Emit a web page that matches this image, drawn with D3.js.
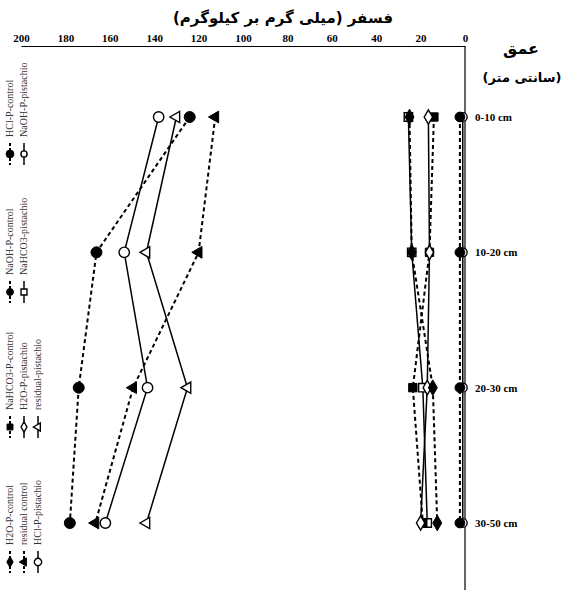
<!DOCTYPE html>
<html><head><meta charset="utf-8">
<script src="https://cdn.jsdelivr.net/npm/d3@7"></script>
<style>body{margin:0;background:#fff}svg{display:block}</style>
</head><body>
<svg id="c" width="565" height="605"></svg>
<script>
const depths = ["0-10 cm","10-20 cm","20-30 cm","30-50 cm"];
const xTicks = [200,180,160,140,120,100,80,60,40,20,0];
const seriesNames = ["HCl-P-control","NaOH-P-pistachio","NaOH-P-control","NaHCO3-pistachio",
  "NaHCO3-P-control","H2O-P-pistachio","residual-pistachio","H2O-P-control","residual control","HCl-P-pistachio"];
const hclControl        = [124, 166, 174, 178];
const naohPistachio     = [1, 1, 1, 1];
const naohControl       = [2.3, 2.3, 2.3, 2.3];
const nahco3Pistachio   = [25.5, 24, 19, 17];
const nahco3Control     = [14, 16, 23.5, 19];
const h2oPistachio      = [16.5, 16, 17, 20];
const residualPistachio = [130, 143.5, 125, 143.5];
const h2oControl        = [25, 24, 14.5, 12.5];
const residualControl   = [112.5, 120, 149.5, 166.5];
const hclPistachio      = [138, 153.5, 143, 162];
const titleText = "فسفر (میلی گرم بر کیلوگرم)";
const depthTitle1 = "عمق";
const depthTitle2 = "(سانتی متر)";

const values = [hclControl,naohPistachio,naohControl,nahco3Pistachio,nahco3Control,
  h2oPistachio,residualPistachio,h2oControl,residualControl,hclPistachio];
const styles = [
  {dash:true, shape:"circle", fill:true, size:95},
  {dash:false, shape:"circle", fill:false, size:60},
  {dash:true, shape:"circle", fill:true, size:75},
  {dash:false, shape:"square", fill:false, size:70},
  {dash:true, shape:"square", fill:true, size:70},
  {dash:false, shape:"diamond", fill:false, size:60},
  {dash:false, shape:"triangle", fill:false, size:55},
  {dash:true, shape:"diamond", fill:true, size:70},
  {dash:true, shape:"triangle", fill:true, size:60},
  {dash:false, shape:"circle", fill:false, size:85}
];
const series = seriesNames.map((n,i)=>({name:n, vals:values[i], st:styles[i]}));

const svg = d3.select("#c");
const x = d3.scaleLinear().domain([0,200]).range([465,21]);
const y = d3.scalePoint().domain(depths).range([117,523]);
const axisY = 46;

const ax = svg.append("g").attr("transform",`translate(0,${axisY})`)
  .call(d3.axisTop(x).tickValues(xTicks).tickSize(0).tickSizeOuter(0).tickPadding(4).tickFormat(d3.format("d")));
ax.select(".domain").attr("stroke","#000").attr("stroke-width",1.2);
ax.selectAll("text").attr("font-family","Liberation Serif").attr("font-weight","bold").attr("font-size",11).attr("fill","#000");

svg.append("line").attr("x1",x(0)).attr("x2",x(0)).attr("y1",axisY).attr("y2",590)
  .attr("stroke","#000").attr("stroke-width",1.2);

svg.selectAll(".dl").data(depths).join("text").attr("class","dl")
  .attr("x",x(0)+10).attr("y",d=>y(d)+4)
  .attr("font-family","Liberation Serif").attr("font-weight","bold").attr("font-size",11).text(d=>d);

svg.append("text").attr("x",283).attr("y",23).attr("text-anchor","middle")
  .attr("font-family","DejaVu Sans").attr("font-weight","bold").attr("font-size",15).attr("direction","rtl").text(titleText);
svg.append("text").attr("x",521).attr("y",54).attr("text-anchor","middle")
  .attr("font-family","DejaVu Sans").attr("font-weight","bold").attr("font-size",16).text(depthTitle1);
svg.append("text").attr("x",522).attr("y",82).attr("text-anchor","middle")
  .attr("font-family","DejaVu Sans").attr("font-weight","bold").attr("font-size",13).attr("direction","rtl").text(depthTitle2);

const symType = {circle:d3.symbolCircle, square:d3.symbolSquare, diamond:d3.symbolDiamond, triangle:d3.symbolTriangle};
function marker(g, st, scale){
  const sym = d3.symbol().type(symType[st.shape]).size(st.size*(scale||1));
  const p = g.append("path").attr("d",sym())
    .attr("fill",st.fill?"#000":"#fff").attr("stroke","#000").attr("stroke-width",st.fill?1:1.4);
  if(st.shape==="triangle") p.attr("transform","rotate(-90)");
  return p;
}

const line = d3.line().x(d=>x(d.v)).y(d=>y(d.d));
series.forEach(s=>{
  const pts = s.vals.map((v,i)=>({v, d:depths[i]}));
  svg.append("path").datum(pts).attr("d",line).attr("fill","none").attr("stroke","#000")
    .attr("stroke-width",s.st.dash?2:1.5).attr("stroke-dasharray",s.st.dash?"4,3":null);
});
series.forEach(s=>{
  s.vals.forEach((v,i)=>{
    const g = svg.append("g").attr("transform",`translate(${x(v)},${y(depths[i])})`);
    marker(g, s.st, 1);
  });
});

const legPos = [
  {c:0,g:0},{c:1,g:0},{c:0,g:1},{c:1,g:1},{c:0,g:2},{c:1,g:2},{c:2,g:2},{c:0,g:3},{c:1,g:3},{c:2,g:3}
];
const colX = [10,24,38];
const groupB = [137,275,410,545];
series.forEach((s,i)=>{
  const lx = colX[legPos[i].c], B = groupB[legPos[i].g];
  const g = svg.append("g");
  g.append("line").attr("x1",lx).attr("x2",lx).attr("y1",B+6).attr("y2",B+28)
    .attr("stroke","#000").attr("stroke-width",s.st.dash?2:1.5).attr("stroke-dasharray",s.st.dash?"3,2":null);
  const mg = g.append("g").attr("transform",`translate(${lx},${B+17})`);
  marker(mg, s.st, 0.5);
  g.append("text").attr("transform",`translate(${lx+3},${B}) rotate(-90)`)
    .attr("font-family","Liberation Serif").attr("font-size",10).attr("fill","#333").text(s.name);
});
</script>
</body></html>
